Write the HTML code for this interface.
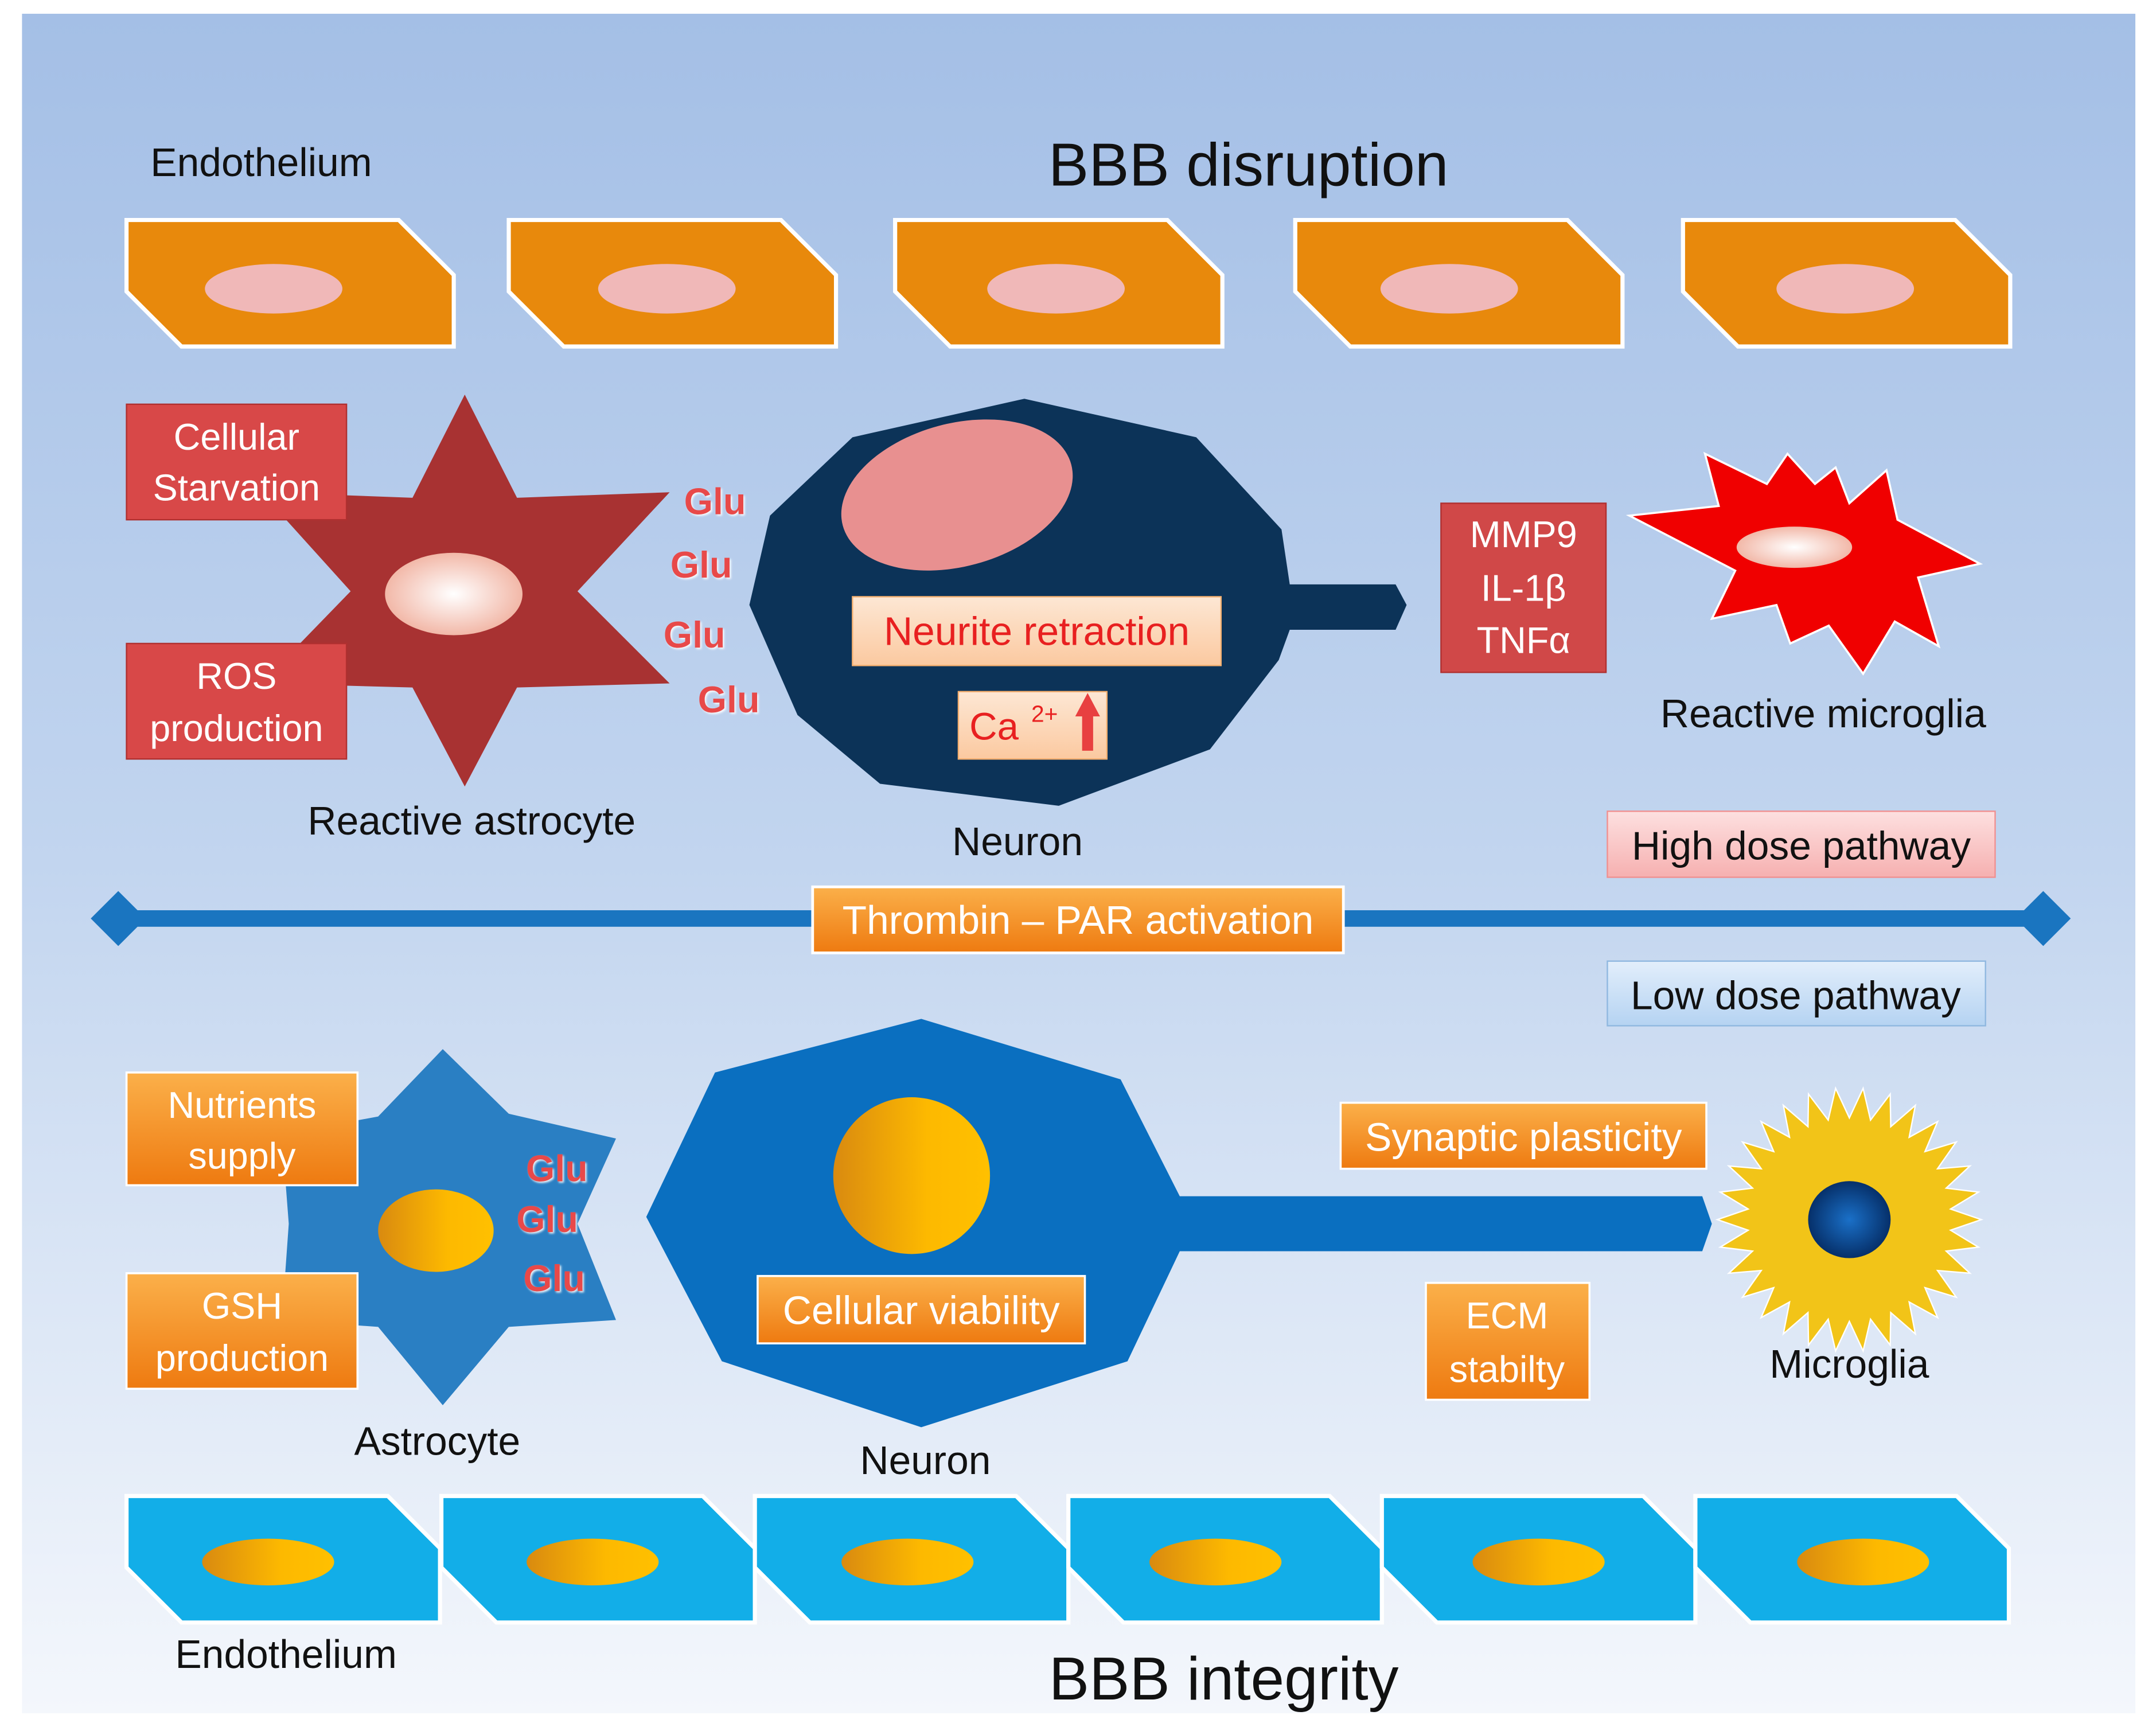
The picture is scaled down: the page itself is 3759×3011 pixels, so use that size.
<!DOCTYPE html>
<html><head><meta charset="utf-8"><style>html,body{margin:0;padding:0;background:#fff}svg{display:block}</style></head>
<body>
<svg width="3759" height="3011" viewBox="0 0 1568 1256" xmlns="http://www.w3.org/2000/svg" font-family="Liberation Sans, sans-serif">
<defs>
<linearGradient id="bg" x1="0" y1="0" x2="0" y2="1"><stop offset="0" stop-color="#a4bfe6"/><stop offset="0.5" stop-color="#c2d5ef"/><stop offset="1" stop-color="#f4f7fc"/></linearGradient>
<linearGradient id="org" x1="0" y1="0" x2="0" y2="1"><stop offset="0" stop-color="#fbb04a"/><stop offset="1" stop-color="#ee7a10"/></linearGradient>
<linearGradient id="onuc" x1="0" y1="0" x2="1" y2="0"><stop offset="0" stop-color="#d98a10"/><stop offset="0.6" stop-color="#fdb900"/><stop offset="1" stop-color="#ffc000"/></linearGradient>
<radialGradient id="pnuc"><stop offset="0" stop-color="#fff"/><stop offset="1" stop-color="#f2b8a8"/></radialGradient>
<linearGradient id="peach" x1="0" y1="0" x2="0" y2="1"><stop offset="0" stop-color="#fde7d4"/><stop offset="1" stop-color="#fbc9a0"/></linearGradient>
<linearGradient id="pinkb" x1="0" y1="0" x2="0" y2="1"><stop offset="0" stop-color="#fde0e0"/><stop offset="1" stop-color="#f6b0b0"/></linearGradient>
<linearGradient id="blueb" x1="0" y1="0" x2="0" y2="1"><stop offset="0" stop-color="#e2eefb"/><stop offset="1" stop-color="#b5d3f2"/></linearGradient>
<radialGradient id="mnuc"><stop offset="0" stop-color="#1a70c8"/><stop offset="1" stop-color="#06306a"/></radialGradient>
<filter id="sh" x="-20%" y="-20%" width="140%" height="140%"><feDropShadow dx="1" dy="1" stdDeviation="0.8" flood-color="#fff" flood-opacity="0.9"/></filter>
</defs>
<rect x="16" y="10" width="1537" height="1236" fill="url(#bg)"/>

<text x="190" y="128" font-size="29" text-anchor="middle" fill="#111">Endothelium</text>
<text x="908" y="135" font-size="44" text-anchor="middle" fill="#111">BBB disruption</text>

<g fill="#e8890c" stroke="#fff" stroke-width="3">
<polygon points="92,160 290,160 330,200 330,252 132,252 92,212"/>
<polygon points="370,160 568,160 608,200 608,252 410,252 370,212"/>
<polygon points="651,160 849,160 889,200 889,252 691,252 651,212"/>
<polygon points="942,160 1140,160 1180,200 1180,252 982,252 942,212"/>
<polygon points="1224,160 1422,160 1462,200 1462,252 1264,252 1224,212"/>
</g>
<g fill="#f0b8b8"><ellipse cx="199" cy="210" rx="50" ry="18"/><ellipse cx="485" cy="210" rx="50" ry="18"/><ellipse cx="768" cy="210" rx="50" ry="18"/><ellipse cx="1054" cy="210" rx="50" ry="18"/><ellipse cx="1342" cy="210" rx="50" ry="18"/></g>

<polygon points="338,287 376,362 487,358 420,430 487,497 376,500 338,572 300,500 190,497 255,430 190,358 300,362" fill="#a83232"/>
<ellipse cx="330" cy="432" rx="50" ry="30" fill="url(#pnuc)"/>
<rect x="92" y="294" width="160" height="84" fill="#d84848" stroke="#b03030"/>
<text x="172" y="327" font-size="27" text-anchor="middle" fill="#fff">Cellular</text>
<text x="172" y="364" font-size="27" text-anchor="middle" fill="#fff">Starvation</text>
<rect x="92" y="468" width="160" height="84" fill="#d84848" stroke="#b03030"/>
<text x="172" y="501" font-size="27" text-anchor="middle" fill="#fff">ROS</text>
<text x="172" y="539" font-size="27" text-anchor="middle" fill="#fff">production</text>
<text x="343" y="607" font-size="29" text-anchor="middle" fill="#111">Reactive astrocyte</text>
<g font-size="27" font-weight="bold" fill="#e84848" text-anchor="middle" filter="url(#sh)">
<text x="520" y="374">Glu</text><text x="510" y="420">Glu</text><text x="505" y="471">Glu</text><text x="530" y="518">Glu</text></g>

<polygon points="745,290 870,318 932,385 938,425 1015,425 1023,440 1015,458 938,458 930,480 880,545 770,586 640,570 580,520 545,440 560,375 620,318" fill="#0c3358"/>
<ellipse cx="696" cy="360" rx="86" ry="52" transform="rotate(-15 696 360)" fill="#e89090"/>
<rect x="620" y="434" width="268" height="50" fill="url(#peach)" stroke="#f5b070"/>
<text x="754" y="469" font-size="29" text-anchor="middle" fill="#e82020">Neurite retraction</text>
<rect x="697" y="503" width="108" height="49" fill="url(#peach)" stroke="#f5b070"/>
<text x="705" y="538" font-size="28" fill="#e82020">Ca</text>
<text x="750" y="525" font-size="17" fill="#e82020">2+</text>
<polygon points="791,504 800,521 795,521 795,546 787,546 787,521 782,521" fill="#e84040"/>
<text x="740" y="622" font-size="29" text-anchor="middle" fill="#111">Neuron</text>

<rect x="1048" y="366" width="120" height="123" fill="#d04848" stroke="#b03030"/>
<g font-size="27" text-anchor="middle" fill="#fff"><text x="1108" y="398">MMP9</text><text x="1108" y="437">IL-1β</text><text x="1108" y="475">TNFα</text></g>

<polygon points="1185,375 1250,368 1240,330 1285,352 1300,330 1320,352 1335,340 1345,366 1372,342 1380,378 1440,410 1395,420 1410,470 1378,452 1355,490 1330,455 1302,468 1292,440 1245,450 1262,415" fill="#f00000" stroke="#fff" stroke-width="1.5"/>
<ellipse cx="1305" cy="398" rx="42" ry="15" fill="url(#pnuc)"/>
<text x="1326" y="529" font-size="29" text-anchor="middle" fill="#111">Reactive microglia</text>

<rect x="1169" y="590" width="282" height="48" fill="url(#pinkb)" stroke="#f09090"/>
<text x="1310" y="625" font-size="29" text-anchor="middle" fill="#111">High dose pathway</text>

<rect x="86" y="662" width="1400" height="12" fill="#1a75c0"/>
<polygon points="66,668 86,648 106,668 86,688" fill="#1a75c0"/>
<polygon points="1466,668 1486,648 1506,668 1486,688" fill="#1a75c0"/>
<rect x="591" y="645" width="386" height="48" fill="url(#org)" stroke="#fff" stroke-width="2"/>
<text x="784" y="679" font-size="29" text-anchor="middle" fill="#fff">Thrombin – PAR activation</text>

<rect x="1169" y="699" width="275" height="47" fill="url(#blueb)" stroke="#90b8e0"/>
<text x="1306" y="734" font-size="29" text-anchor="middle" fill="#111">Low dose pathway</text>

<polygon points="322,763 370,810 448,828 420,890 448,960 370,965 322,1022 275,965 205,960 210,890 205,825 275,812" fill="#2a7fc3"/>
<ellipse cx="317" cy="895" rx="42" ry="30" fill="url(#onuc)"/>
<rect x="92" y="780" width="168" height="82" fill="url(#org)" stroke="#fff" stroke-width="1.5"/>
<text x="176" y="813" font-size="27" text-anchor="middle" fill="#fff">Nutrients</text>
<text x="176" y="850" font-size="27" text-anchor="middle" fill="#fff">supply</text>
<rect x="92" y="926" width="168" height="84" fill="url(#org)" stroke="#fff" stroke-width="1.5"/>
<text x="176" y="959" font-size="27" text-anchor="middle" fill="#fff">GSH</text>
<text x="176" y="997" font-size="27" text-anchor="middle" fill="#fff">production</text>
<g font-size="27" font-weight="bold" fill="#e84848" text-anchor="middle" filter="url(#sh)">
<text x="405" y="859">Glu</text><text x="398" y="896">Glu</text><text x="403" y="939">Glu</text></g>
<text x="318" y="1058" font-size="29" text-anchor="middle" fill="#111">Astrocyte</text>

<polygon points="670,741 815,785 858,870 1238,870 1245,890 1238,910 858,910 820,990 670,1038 525,990 470,885 520,780" fill="#0a6fc0"/>
<circle cx="663" cy="855" r="57" fill="url(#onuc)"/>
<rect x="551" y="928" width="238" height="49" fill="url(#org)" stroke="#fff" stroke-width="1.5"/>
<text x="670" y="963" font-size="29" text-anchor="middle" fill="#fff">Cellular viability</text>
<text x="673" y="1072" font-size="29" text-anchor="middle" fill="#111">Neuron</text>

<rect x="975" y="802" width="266" height="48" fill="url(#org)" stroke="#fff" stroke-width="1.5"/>
<text x="1108" y="837" font-size="29" text-anchor="middle" fill="#fff">Synaptic plasticity</text>
<rect x="1037" y="933" width="119" height="85" fill="url(#org)" stroke="#fff" stroke-width="1.5"/>
<text x="1096" y="966" font-size="27" text-anchor="middle" fill="#fff">ECM</text>
<text x="1096" y="1005" font-size="27" text-anchor="middle" fill="#fff">stabilty</text>

<circle cx="1345" cy="887" r="72" fill="#f2c418"/>
<polygon id="sun" fill="#f2c418" stroke="#fff" stroke-width="1" points="
1440,887 1412,895 1436,912 1407,914 1425,937 1397,932 1407,959 1382,947 1384,976 1363,958 1356,986 1340,962 1325,987 1318,958 1297,976 1298,947 1273,959 1283,932 1255,937 1273,914 1244,912 1268,895 1240,887 1268,879 1244,862 1273,860 1255,837 1283,842 1273,815 1298,827 1297,798 1318,816 1325,788 1340,812 1356,788 1363,816 1384,798 1382,827 1407,815 1397,842 1425,837 1407,860 1436,862 1412,879"/>
<ellipse cx="1345" cy="887" rx="30" ry="28" fill="url(#mnuc)"/>
<text x="1345" y="1002" font-size="29" text-anchor="middle" fill="#111">Microglia</text>

<g fill="#12aee8" stroke="#fff" stroke-width="3">
<polygon points="92,1088 282,1088 320,1126 320,1180 132,1180 92,1140"/>
<polygon points="321,1088 511,1088 549,1126 549,1180 361,1180 321,1140"/>
<polygon points="549,1088 739,1088 777,1126 777,1180 589,1180 549,1140"/>
<polygon points="777,1088 967,1088 1005,1126 1005,1180 817,1180 777,1140"/>
<polygon points="1005,1088 1195,1088 1233,1126 1233,1180 1045,1180 1005,1140"/>
<polygon points="1233,1088 1423,1088 1461,1126 1461,1180 1273,1180 1233,1140"/>
</g>
<g fill="url(#onuc)"><ellipse cx="195" cy="1136" rx="48" ry="17"/><ellipse cx="431" cy="1136" rx="48" ry="17"/><ellipse cx="660" cy="1136" rx="48" ry="17"/><ellipse cx="884" cy="1136" rx="48" ry="17"/><ellipse cx="1119" cy="1136" rx="48" ry="17"/><ellipse cx="1355" cy="1136" rx="48" ry="17"/></g>
<text x="208" y="1213" font-size="29" text-anchor="middle" fill="#111">Endothelium</text>
<text x="890" y="1236" font-size="44" text-anchor="middle" fill="#111">BBB integrity</text>
</svg>
<script>
(function(){var p=[],n=30,cx=1345,cy=887;for(var i=0;i<2*n;i++){var a=Math.PI*i/n,r=i%2?74:96;p.push((cx+r*Math.cos(a)).toFixed(1)+','+(cy+r*Math.sin(a)).toFixed(1));}document.getElementById('sun').setAttribute('points',p.join(' '));})();
</script>
</body></html>
